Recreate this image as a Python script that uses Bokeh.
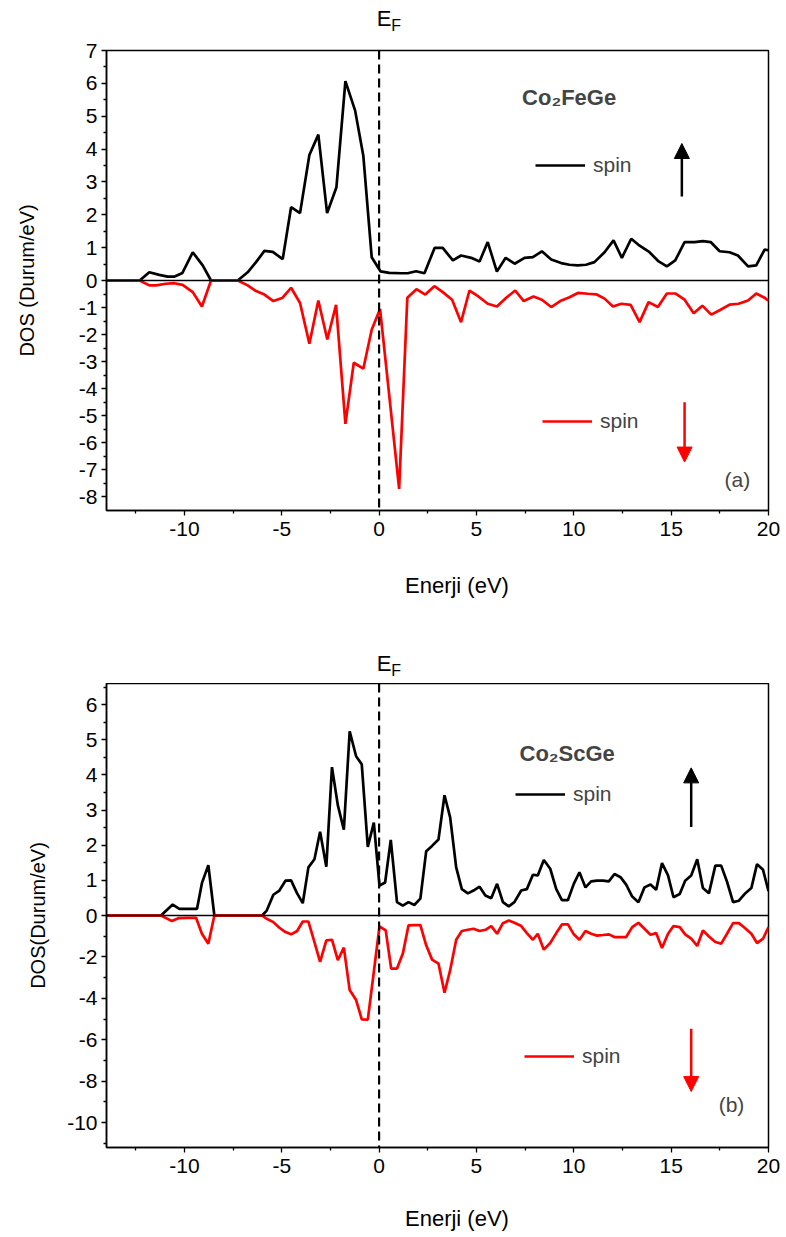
from bokeh.plotting import figure
from bokeh.models import (Range1d, FixedTicker, CustomJSTickFormatter, Span, Arrow,
                          NormalHead, Label, Legend, LegendItem)
from bokeh.layouts import column
from bokeh.embed import file_html
from bokeh.resources import INLINE

FONT = "Liberation Sans"

# ---------------- data: (a) Co2FeGe ----------------
e_up_a = [-14, -12.3, -11.8, -11.29, -10.86, -10.5, -10.1, -9.57, -9.06, -8.63, -7.26, -6.75, -6.32,
          -5.89, -5.46, -4.95, -4.52, -4.06, -3.58, -3.12, -2.67, -2.19, -1.73, -1.23, -0.81, -0.38,
          0.07, 0.53, 1.13, 1.47, 1.9, 2.33, 2.85, 3.27, 3.79, 4.21, 4.73, 5.16, 5.58, 6.05, 6.5,
          6.96, 7.47, 7.9, 8.36, 8.84, 9.35, 9.78, 10.2, 10.63, 11.06, 11.58, 12.04, 12.47, 12.95,
          13.38, 13.89, 14.36, 14.78, 15.21, 15.69, 16.2, 16.63, 17.03, 17.49, 18.0, 18.43, 18.95,
          19.37, 19.8, 20.0]
dos_up_a = [0, 0, 0.25, 0.17, 0.12, 0.12, 0.23, 0.86, 0.46, 0, 0, 0.25, 0.56,
            0.9, 0.87, 0.65, 2.23, 2.05, 3.82, 4.44, 2.05, 2.84, 6.07, 5.17, 3.8, 0.71,
            0.28, 0.23, 0.22, 0.22, 0.28, 0.22, 0.99, 0.99, 0.61, 0.76, 0.69, 0.58, 1.17, 0.27, 0.69,
            0.51, 0.69, 0.71, 0.89, 0.64, 0.53, 0.48, 0.46, 0.48, 0.56, 0.86, 1.22, 0.69, 1.27,
            1.06, 0.86, 0.58, 0.43, 0.61, 1.17, 1.17, 1.2, 1.17, 0.89, 0.86, 0.76, 0.43,
            0.46, 0.94, 0.92]

e_dn_a = [-14, -12.3, -11.8, -11.46, -10.95, -10.52, -10.09, -9.57, -9.1, -8.63, -7.26, -6.75, -6.32,
          -5.89, -5.43, -4.98, -4.52, -4.06, -3.58, -3.12, -2.66, -2.21, -1.73, -1.3, -0.81, -0.38,
          0.05, 1.03, 1.45, 1.92, 2.37, 2.84, 3.27, 3.75, 4.21, 4.64, 5.1, 5.58, 6.05, 6.53, 6.99,
          7.43, 7.93, 8.36, 8.84, 9.3, 9.78, 10.21, 10.73, 11.15, 11.58, 12.01, 12.44, 12.92, 13.38,
          13.84, 14.32, 14.78, 15.21, 15.69, 16.16, 16.6, 17.06, 17.54, 18.0, 18.46, 18.95, 19.37,
          19.8, 20.0]
dos_dn_a = [0, 0, -0.18, -0.18, -0.12, -0.1, -0.16, -0.43, -0.96, 0, 0, -0.18, -0.39,
            -0.52, -0.76, -0.65, -0.27, -0.83, -2.34, -0.74, -2.18, -0.9, -5.3, -3.04, -3.26, -1.82,
            -1.05, -7.7, -0.64, -0.32, -0.52, -0.21, -0.43, -0.71, -1.54, -0.37, -0.59, -0.86, -0.96, -0.64, -0.37,
            -0.76, -0.59, -0.71, -0.98, -0.76, -0.62, -0.46, -0.49, -0.51, -0.67, -0.96, -0.86, -0.9, -1.54,
            -0.8, -0.98, -0.48, -0.48, -0.71, -1.21, -0.93, -1.26, -1.08, -0.89, -0.86, -0.74, -0.48,
            -0.64, -0.74]

# ---------------- data: (b) Co2ScGe ----------------
e_up_b = [-14, -11.2, -10.6, -10.26, -9.83, -9.35, -9.1, -8.77, -8.46, -6.01, -5.77, -5.43, -5.12,
          -4.81, -4.52, -4.21, -3.92, -3.63, -3.32, -3.03, -2.71, -2.42, -2.12, -1.81, -1.51, -1.18,
          -0.89, -0.58, -0.27, 0.02, 0.31, 0.6, 0.92, 1.22, 1.51, 1.81, 2.12, 2.42, 2.72, 3.05, 3.36,
          3.65, 3.96, 4.25, 4.56, 4.85, 5.16, 5.46, 5.76, 6.06, 6.36, 6.66, 6.95, 7.3, 7.59, 7.9,
          8.15, 8.46, 8.79, 9.1, 9.39, 9.7, 10.0, 10.29, 10.6, 10.89, 11.19, 11.5, 11.8, 12.09, 12.4,
          12.69, 13.0, 13.32, 13.63, 13.94, 14.23, 14.53, 14.84, 15.12, 15.44, 15.72, 16.03, 16.34,
          16.63, 16.94, 17.27, 17.57, 17.87, 18.18, 18.48, 18.77, 19.12, 19.41, 19.72, 20.0]
dos_up_b = [0, 0, 0.31, 0.19, 0.19, 0.19, 0.92, 1.43, 0, 0, 0.14, 0.59, 0.71,
            0.99, 1.0, 0.63, 0.35, 1.37, 1.6, 2.38, 1.39, 4.22, 3.14, 2.44, 5.24, 4.53,
            4.3, 1.95, 2.64, 0.85, 0.94, 2.15, 0.38, 0.28, 0.38, 0.3, 0.48, 1.83, 1.98, 2.16, 3.42,
            2.79, 1.37, 0.75, 0.63, 0.71, 0.82, 0.57, 0.49, 0.9, 0.38, 0.26, 0.38, 0.71, 0.75, 1.16,
            1.14, 1.58, 1.33, 0.75, 0.44, 0.44, 0.9, 1.23, 0.8, 0.97, 0.99, 0.99, 0.97, 1.18, 1.09,
            0.88, 0.54, 0.38, 0.8, 0.88, 0.73, 1.49, 1.14, 0.52, 0.61, 0.99, 1.14, 1.6,
            0.78, 0.63, 1.42, 1.42, 0.96, 0.38, 0.42, 0.61, 0.78, 1.46, 1.3, 0.69]

e_dn_b = [-14, -11.2, -10.64, -10.31, -9.83, -9.4, -9.1, -8.77, -8.46, -6.01, -5.77, -5.43, -5.12,
          -4.81, -4.52, -4.21, -3.92, -3.63, -3.32, -3.03, -2.71, -2.42, -2.12, -1.81, -1.51, -1.18,
          -0.89, -0.58, -0.27, 0.02, 0.34, 0.62, 0.92, 1.22, 1.51, 1.81, 2.12, 2.42, 2.72, 3.05, 3.36,
          3.65, 3.96, 4.25, 4.56, 4.85, 5.16, 5.46, 5.76, 6.06, 6.36, 6.66, 6.95, 7.3, 7.59, 7.9,
          8.15, 8.46, 8.79, 9.1, 9.39, 9.7, 10.0, 10.29, 10.6, 10.89, 11.19, 11.5, 11.8, 12.09, 12.4,
          12.69, 13.0, 13.32, 13.63, 13.94, 14.23, 14.53, 14.84, 15.12, 15.44, 15.72, 16.03, 16.34,
          16.63, 16.94, 17.27, 17.57, 17.87, 18.18, 18.48, 18.77, 19.12, 19.41, 19.72, 20.0]
dos_dn_b = [0, 0, -0.27, -0.13, -0.11, -0.11, -0.88, -1.36, 0, 0, -0.16, -0.32, -0.59,
            -0.8, -0.91, -0.75, -0.29, -0.29, -1.28, -2.24, -1.2, -1.17, -2.16, -1.55, -3.6, -4.08,
            -5.01, -5.03, -2.72, -0.53, -0.72, -2.56, -2.56, -1.84, -0.48, -0.46, -0.46, -1.44, -2.13, -2.32, -3.73,
            -2.64, -1.17, -0.75, -0.69, -0.64, -0.75, -0.69, -0.51, -0.88, -0.37, -0.24, -0.35, -0.51, -0.85, -1.17,
            -0.88, -1.65, -1.33, -0.85, -0.43, -0.43, -0.91, -1.17, -0.75, -0.88, -0.97, -0.94, -0.91, -1.04, -1.04,
            -1.04, -0.56, -0.35, -0.64, -0.93, -0.85, -1.57, -0.88, -0.51, -0.56, -0.91, -1.12, -1.47,
            -0.72, -1.01, -1.28, -1.36, -0.88, -0.37, -0.37, -0.59, -0.88, -1.33, -1.12, -0.56]

# ---------------- ticks ----------------
x_ticks = [-10, -5, 0, 5, 10, 15, 20]
x_minor = [-12.5, -7.5, -2.5, 2.5, 7.5, 12.5, 17.5]

up_ticks_a = [0, 1, 2, 3, 4, 5, 6, 7]
up_minor_a = [0.5, 1.5, 2.5, 3.5, 4.5, 5.5, 6.5]
dn_ticks_a = [-1, -2, -3, -4, -5, -6, -7, -8]
dn_minor_a = [-0.5, -1.5, -2.5, -3.5, -4.5, -5.5, -6.5, -7.5]

up_ticks_b = [0, 1, 2, 3, 4, 5, 6]
up_minor_b = [0.5, 1.5, 2.5, 3.5, 4.5, 5.5, 6.5]
dn_ticks_b = [-2, -4, -6, -8, -10]
dn_minor_b = [-1, -3, -5, -7, -9, -11]

X_LABEL = "Enerji (eV)"
CURVE_W = 2.7


def text_strip(height, items):
    """A blank strip sharing the x mapping of the charts, holding free texts."""
    s = figure(frame_width=662, frame_height=height, x_range=Range1d(-14, 20),
               y_range=Range1d(0, height), x_axis_type=None, y_axis_type=None,
               min_border_left=106, min_border_right=18, min_border_top=0, min_border_bottom=0,
               output_backend="svg", toolbar_location=None)
    s.outline_line_color = None
    s.background_fill_color = "white"
    s.border_fill_color = "white"
    for (x, y, txt, size, align) in items:
        s.add_layout(Label(x=x, y=y, text=txt, text_font=FONT, text_font_size=size,
                           text_align=align, text_baseline="middle", text_color="black"))
    return s


def make_chart(e_up, d_up, e_dn, d_dn, U, L, up_t, up_m, dn_t, dn_m, frame_h, b_top, b_bottom,
               ylabel, ylabel_standoff, title, panel, leg_up_loc, leg_dn_loc,
               title_pos, panel_pos, arrow_up, arrow_dn):
    p = figure(frame_width=662, frame_height=frame_h,
               x_range=Range1d(-14, 20), y_range=Range1d(-U, U),
               min_border_left=106, min_border_right=18,
               min_border_top=b_top, min_border_bottom=b_bottom,
               output_backend="svg", toolbar_location=None)
    p.extra_y_ranges = {"down": Range1d(L, -L)}
    p.xgrid.visible = False
    p.ygrid.visible = False
    p.outline_line_color = "black"
    p.outline_line_width = 1.5
    p.background_fill_color = "white"
    p.border_fill_color = "white"

    k = U / (-L)
    yax = p.yaxis[0]
    yax.ticker = FixedTicker(ticks=up_t + [v * k for v in dn_t],
                             minor_ticks=up_m + [v * k for v in dn_m])
    yax.formatter = CustomJSTickFormatter(
        args=dict(k=1.0 / k),
        code="const v = tick < 0 ? tick * k : tick; return Math.round(v).toString();")
    yax.axis_label = ylabel
    yax.axis_label_standoff = ylabel_standoff

    xax = p.xaxis[0]
    xax.ticker = FixedTicker(ticks=x_ticks, minor_ticks=x_minor)
    xax.formatter = CustomJSTickFormatter(code="return tick.toString();")

    for ax in (xax, yax):
        ax.axis_line_color = "black"
        ax.axis_line_width = 1.5
        ax.major_tick_in = 0
        ax.major_tick_out = 5
        ax.minor_tick_in = 0
        ax.minor_tick_out = 3
        ax.major_tick_line_color = "black"
        ax.minor_tick_line_color = "black"
        ax.major_tick_line_width = 1.3
        ax.minor_tick_line_width = 1.3
        ax.major_label_text_font = FONT
        ax.major_label_text_font_size = "21px"
        ax.major_label_text_color = "black"
        ax.major_label_standoff = 4
        ax.axis_label_text_font = FONT
        ax.axis_label_text_font_size = "20px"
        ax.axis_label_text_font_style = "normal"
        ax.axis_label_text_color = "black"
    xax.major_label_standoff = 6

    p.add_layout(Span(location=0, dimension="width", line_color="black", line_width=1.5))
    p.add_layout(Span(location=0, dimension="height", line_color="black", line_width=2.2,
                      line_dash="9 5"))

    r_up = p.line(e_up, d_up, line_color="black", line_width=CURVE_W)
    r_dn = p.line(e_dn, d_dn, line_color="red", line_width=CURVE_W, y_range_name="down")

    for rend, loc in ((r_up, leg_up_loc), (r_dn, leg_dn_loc)):
        leg = Legend(items=[LegendItem(label="spin", renderers=[rend])], location=loc,
                     padding=0, margin=0, spacing=0, glyph_width=50, glyph_height=20,
                     label_standoff=8, label_text_font=FONT, label_text_font_size="21px",
                     border_line_alpha=0, background_fill_alpha=0)
        p.add_layout(leg)

    p.add_layout(Label(x=title_pos[0], y=title_pos[1], text=title, text_font=FONT,
                       text_font_size="22px", text_font_style="bold", text_align="center",
                       text_baseline="middle"))
    p.add_layout(Label(x=panel_pos[0], y=panel_pos[1], y_range_name="down", text=panel,
                       text_font=FONT, text_font_size="21px", text_align="center",
                       text_baseline="middle"))

    p.add_layout(Arrow(x_start=arrow_up[0], y_start=arrow_up[1], x_end=arrow_up[0], y_end=arrow_up[2],
                       line_color="black", line_width=2.5,
                       end=NormalHead(size=15, fill_color="black", line_color="black")))
    p.add_layout(Arrow(x_start=arrow_dn[0], y_start=arrow_dn[1], x_end=arrow_dn[0], y_end=arrow_dn[2],
                       line_color="red", line_width=2.5, y_range_name="down",
                       end=NormalHead(size=15, fill_color="red", line_color="red")))
    return p


# strip above chart (a): E_F marker label
top_strip = text_strip(38, [(-0.12, 20, "E", "22px", "left"),
                            (0.63, 13, "F", "16px", "left")])

p1 = make_chart(e_up_a, dos_up_a, e_dn_a, dos_dn_a, 7, -8.5,
                up_ticks_a, up_minor_a, dn_ticks_a, dn_minor_a, 460, 12, 50,
                "DOS (Durum/eV)", 38, "Co\u2082FeGe", "(a)",
                (429, 333), (436, 77),
                (9.76, 5.57), (18.4, -7.35),
                (15.55, 2.56, 4.17), (15.69, -4.5, -6.71))

# strip between the charts: x title of (a) and E_F label of (b)
mid_strip = text_strip(123, [(4.0, 98, X_LABEL, "22px", "center"),
                             (-0.12, 20, "E", "22px", "left"),
                             (0.63, 13, "F", "16px", "left")])

p2 = make_chart(e_up_b, dos_up_b, e_dn_b, dos_dn_b, 6.6, -11.2,
                up_ticks_b, up_minor_b, dn_ticks_b, dn_minor_b, 464, 0, 50,
                "DOS(Durum/eV)", 15, "Co\u2082ScGe", "(b)",
                (409, 341), (418, 79),
                (9.66, 4.62), (18.1, -9.12),
                (16.03, 2.52, 4.2), (16.03, -5.47, -8.5))

# strip below chart (b): its x title
bot_strip = text_strip(40, [(4.0, 19, X_LABEL, "22px", "center")])

layout = column(top_strip, p1, mid_strip, p2, bot_strip, spacing=0)
open("out.html", "w").write(file_html(layout, INLINE))
